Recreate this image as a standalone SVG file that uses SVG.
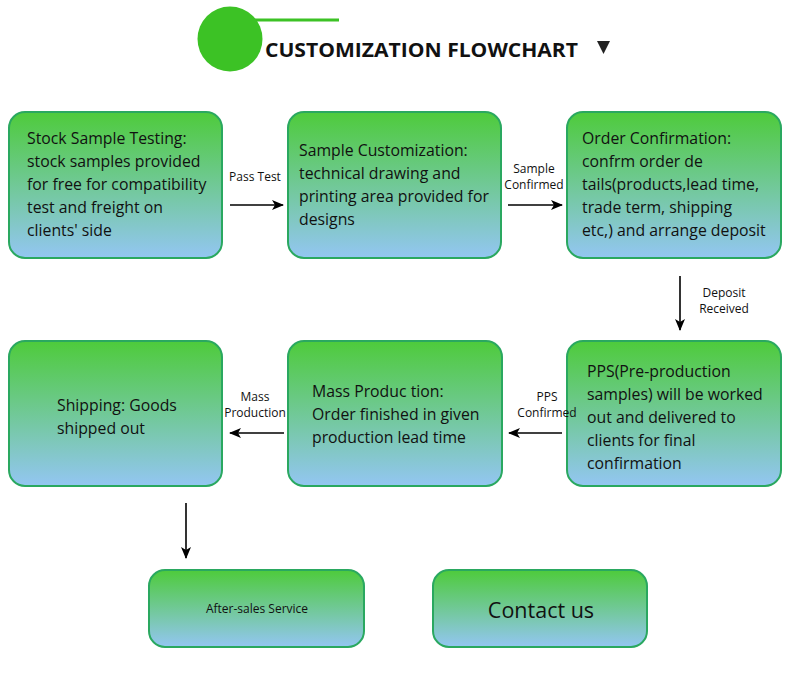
<svg xmlns="http://www.w3.org/2000/svg" width="790" height="681" viewBox="0 0 790 681">
<defs>
<linearGradient id="g" x1="0" y1="0" x2="0" y2="1">
<stop offset="0" stop-color="#4ECB3B"/>
<stop offset="1" stop-color="#93C6F2"/>
</linearGradient>
<marker id="ah" viewBox="0 0 12 10" refX="11" refY="5" markerWidth="12" markerHeight="10" markerUnits="userSpaceOnUse" orient="auto">
<path d="M0,0 L12,5 L0,10 L3,5 Z" fill="#000"/>
</marker>
</defs>
<style>
.box{fill:url(#g);stroke:#2AA860;stroke-width:2}
.t{font-family:"Open Sans","Noto Sans",sans-serif;font-size:15.8px;fill:#111}
.l{font-family:"Open Sans","Noto Sans",sans-serif;font-size:12px;fill:#111;text-anchor:middle}
.c{stroke:#000;stroke-width:1.6;fill:none;marker-end:url(#ah)}
</style>
<rect width="790" height="681" fill="#fff"/>
<g id="header">
<line x1="250" y1="20" x2="339" y2="20" stroke="#3CC225" stroke-width="3"/>
<circle cx="230" cy="39" r="32.5" fill="#3CC225"/>
<text x="265" y="57" font-family="'Open Sans','Noto Sans',sans-serif" font-weight="700" font-size="20" fill="#111" textLength="313" lengthAdjust="spacingAndGlyphs">CUSTOMIZATION FLOWCHART</text>
<path d="M597,41 L610,41 L603.5,54 Z" fill="#222"/>
</g>
<g id="n1">
<rect class="box" x="9" y="112" width="213" height="146" rx="16"/>
<text class="t" x="27" y="144">Stock Sample Testing:</text>
<text class="t" x="27" y="167">stock samples provided</text>
<text class="t" x="27" y="190">for free for compatibility</text>
<text class="t" x="27" y="213">test and freight on</text>
<text class="t" x="27" y="236">clients' side</text>
</g>
<g id="n2">
<rect class="box" x="288" y="112" width="213" height="146" rx="16"/>
<text class="t" x="299" y="156">Sample Customization:</text>
<text class="t" x="299" y="179">technical drawing and</text>
<text class="t" x="299" y="202">printing area provided for</text>
<text class="t" x="299" y="225">designs</text>
</g>
<g id="n3">
<rect class="box" x="567" y="112" width="214" height="146" rx="16"/>
<text class="t" x="582" y="144">Order Confirmation:</text>
<text class="t" x="582" y="167">confrm order de</text>
<text class="t" x="582" y="190">tails(products,lead time,</text>
<text class="t" x="582" y="213">trade term, shipping</text>
<text class="t" x="582" y="236">etc,) and arrange deposit</text>
</g>
<g id="n4">
<rect class="box" x="567" y="341" width="214" height="145" rx="16"/>
<text class="t" x="587" y="377">PPS(Pre-production</text>
<text class="t" x="587" y="400">samples) will be worked</text>
<text class="t" x="587" y="423">out and delivered to</text>
<text class="t" x="587" y="446">clients for final</text>
<text class="t" x="587" y="469">confirmation</text>
</g>
<g id="n5">
<rect class="box" x="288" y="341" width="214" height="145" rx="16"/>
<text class="t" x="312" y="397">Mass Produc tion:</text>
<text class="t" x="312" y="420">Order finished in given</text>
<text class="t" x="312" y="443">production lead time</text>
</g>
<g id="n6">
<rect class="box" x="9" y="341" width="213" height="145" rx="16"/>
<text class="t" x="57" y="411">Shipping: Goods</text>
<text class="t" x="57" y="434">shipped out</text>
</g>
<g id="n7">
<rect class="box" x="149" y="570" width="215" height="77" rx="16"/>
<text class="l" x="257" y="613">After-sales Service</text>
</g>
<g id="n8">
<rect class="box" x="433" y="570" width="214" height="77" rx="16"/>
<text x="541" y="618" font-family="'Open Sans','Noto Sans',sans-serif" font-size="21.5" fill="#111" text-anchor="middle">Contact us</text>
</g>
<g id="connectors">
<line class="c" x1="230" y1="205" x2="283" y2="205"/>
<text class="l" x="255" y="181">Pass Test</text>
<line class="c" x1="508" y1="205" x2="562" y2="205"/>
<text class="l" x="534" y="173">Sample</text>
<text class="l" x="534" y="189">Confirmed</text>
<line class="c" x1="680" y1="276" x2="680" y2="330"/>
<text class="l" x="724" y="297">Deposit</text>
<text class="l" x="724" y="313">Received</text>
<line class="c" x1="562" y1="433" x2="509" y2="433"/>
<text class="l" x="547" y="401">PPS</text>
<text class="l" x="547" y="417">Confirmed</text>
<line class="c" x1="284" y1="433" x2="230" y2="433"/>
<text class="l" x="255" y="401">Mass</text>
<text class="l" x="255" y="417">Production</text>
<line class="c" x1="186" y1="503" x2="186" y2="558"/>
</g>
</svg>
